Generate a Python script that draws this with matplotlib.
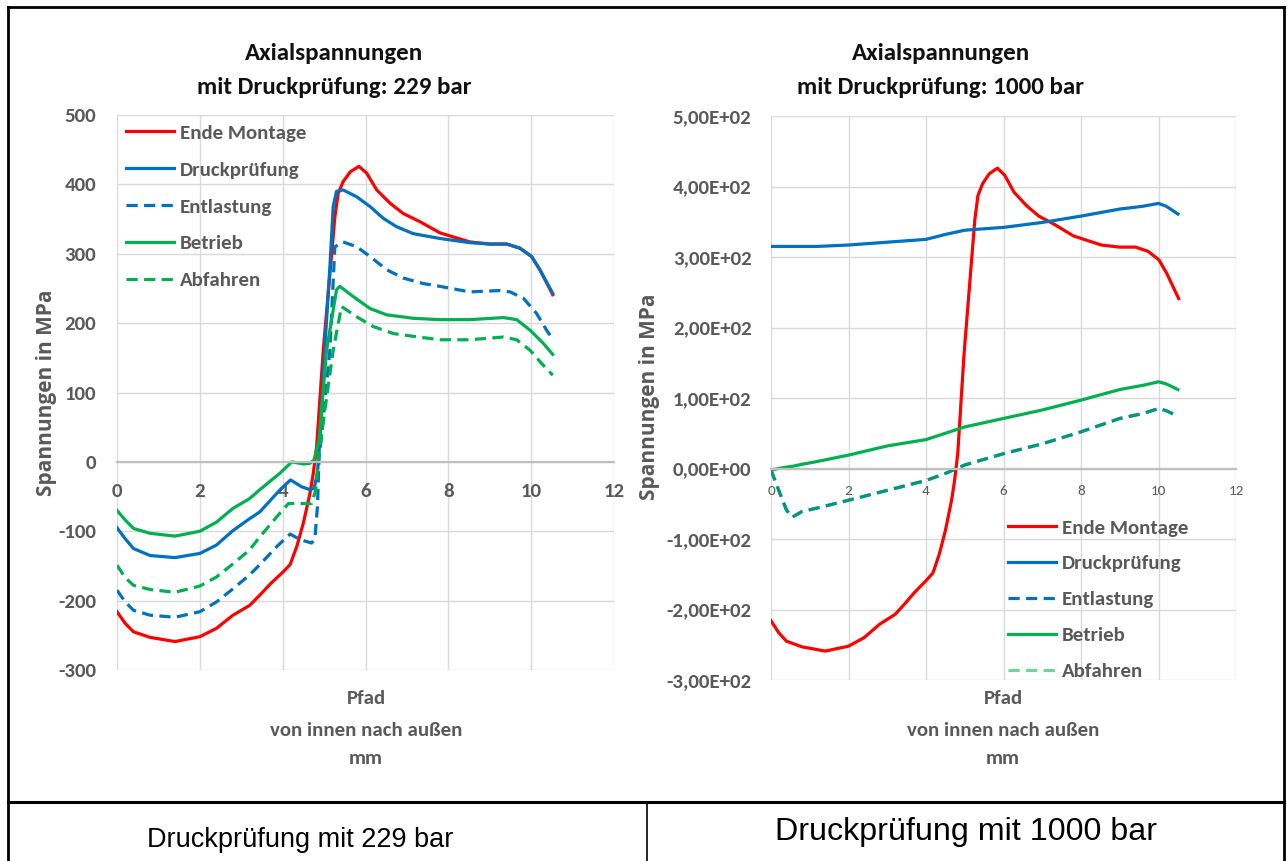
import matplotlib
matplotlib.use("Agg")
import matplotlib.pyplot as plt
from matplotlib import font_manager
from matplotlib.lines import Line2D
from matplotlib.ticker import FuncFormatter, MultipleLocator

plt.rcParams["axes.unicode_minus"] = False

# ---- data ----
labels = ["Ende Montage", "Druckprüfung", "Entlastung", "Betrieb", "Abfahren"]

# Ende Montage is the same in both charts
x_ende = [0, 0.2, 0.4, 0.8, 1.4, 2.0, 2.4, 2.8, 3.2, 3.45, 3.7, 4.02, 4.18, 4.34, 4.5,
          4.66, 4.74, 4.82, 4.98, 5.26, 5.34, 5.46, 5.63, 5.84, 6.03, 6.27, 6.59,
          6.91, 7.32, 7.8, 8.52, 9.0, 9.41, 9.73, 10.01, 10.21, 10.52]
ende_montage = [-216, -233, -245, -253, -259, -252, -240, -221, -207, -192, -176,
                -158, -148, -122, -88, -45, -16, 22, 161, 353, 387, 404, 418, 426,
                416, 392, 373, 358, 346, 330, 317, 314, 314, 308, 296, 277, 241]

# 229 bar
x_druck_229 = [0, 0.2, 0.4, 0.8, 1.4, 2.0, 2.4, 2.8, 3.2, 3.45, 3.94, 4.19, 4.46,
               4.66, 4.76, 4.84, 4.90, 5.02, 5.14, 5.22, 5.30, 5.46, 5.79, 6.11,
               6.43, 6.75, 7.15, 7.8, 8.52, 9.0, 9.41, 9.73, 10.01, 10.21, 10.52]
druck_229 = [-95, -111, -125, -135, -138, -132, -120, -99, -82, -72, -40, -26, -36,
             -40, -38, -16, 32, 166, 281, 368, 390, 392, 382, 368, 351, 339, 329,
             322, 316, 314, 314, 308, 296, 277, 243]

x_entl_229 = [0, 0.2, 0.4, 0.8, 1.4, 2.0, 2.4, 2.8, 3.2, 3.45, 3.86, 4.18, 4.42,
              4.70, 4.78, 4.84, 4.88, 4.93, 5.14, 5.26, 5.46, 5.79, 6.11, 6.51, 6.91,
              7.40, 7.80, 8.52, 9.25, 9.49, 9.81, 10.13, 10.37, 10.52]
entlastung_229 = [-185, -202, -214, -221, -224, -216, -202, -183, -163, -148, -122,
                  -104, -112, -117, -110, -64, 8, 32, 161, 310, 317, 310, 296, 277,
                  265, 257, 253, 245, 247, 245, 236, 214, 190, 177]

x_betr_229 = [0, 0.2, 0.4, 0.8, 1.4, 2.0, 2.4, 2.8, 3.2, 3.45, 3.94, 4.22, 4.5, 4.66,
              4.76, 4.84, 4.88, 5.06, 5.30, 5.38, 5.71, 6.11, 6.51, 7.15, 7.80, 8.52,
              9.33, 9.65, 9.97, 10.29, 10.52]
betrieb_229 = [-70, -84, -96, -103, -107, -100, -87, -67, -53, -40, -16, 0, -3, -2, 3,
               22, 32, 161, 248, 253, 238, 221, 212, 207, 205, 205, 208, 205, 190,
               171, 155]

x_abf_229 = [0, 0.2, 0.4, 0.8, 1.4, 2.0, 2.4, 2.8, 3.2, 3.45, 3.86, 4.14, 4.42, 4.70,
             4.80, 4.86, 4.92, 5.22, 5.42, 5.79, 6.19, 6.67, 7.15, 7.80, 8.52, 9.33,
             9.65, 9.97, 10.25, 10.52]
abfahren_229 = [-149, -167, -178, -184, -188, -179, -166, -147, -127, -108, -79, -60,
                -60, -60, -40, 3, 32, 161, 224, 209, 195, 185, 181, 176, 176, 180, 176,
                161, 142, 125]

# 1000 bar
x_r = [0, 0.2, 0.4, 0.55, 0.8, 1.2, 2, 3, 4, 4.5, 5, 6, 7, 8, 9, 9.6, 10, 10.2, 10.5]
druck_1000 = [315, 315, 315, 315, 315, 315, 317, 321, 325, 332, 338, 342, 349, 358,
              368, 372, 376, 372, 361]
entlastung_1000 = [-2, -31, -59, -69, -61, -56, -45, -31, -17, -7, 5, 21, 35, 52,
                   71, 78, 85, 82, 74]
betrieb_1000 = [-2, 0, 2, 3, 6, 10, 19, 32, 41, 50, 59, 71, 83, 97, 112, 118, 123,
                120, 112]
abfahren_1000 = [-2, -31, -59, -69, -61, -56, -45, -31, -17, -7, 5, 21, 35, 52,
                 71, 78, 85, 82, 74]

titles = ["Axialspannungen\nmit Druckprüfung: 229 bar",
          "Axialspannungen\nmit Druckprüfung: 1000 bar"]
captions = ["Druckprüfung mit 229 bar", "Druckprüfung mit 1000 bar"]

# ---- fonts ----
names = {f.name for f in font_manager.fontManager.ttflist}
def pick(*cands):
    for c in cands:
        if c in names:
            return c
    return "DejaVu Sans"

main_font = pick("Carlito", "Liberation Sans Narrow", "Roboto Condensed", "Open Sans")
side_font = pick("Open Sans", "Noto Sans", "DejaVu Sans")
cap_font = pick("Liberation Sans", "Arimo", "DejaVu Sans")

GREY = "#595959"
RED, BLUE, GREEN = "#ff0000", "#0070c0", "#00b050"
LW = 2.3
DASH = (0, (3.5, 2))

W, H = 1287, 861
def fx(px):
    return px / W
def fy(py):
    return 1 - py / H

fig = plt.figure(figsize=(W / 100, H / 100), dpi=100)

ax1 = fig.add_axes([fx(117), fy(670), fx(614) - fx(117), fy(115) - fy(670)])
ax2 = fig.add_axes([fx(771), fy(680), fx(1236) - fx(771), fy(116) - fy(680)])

def style(ax, ymin, ymax, xpad, ypad, xbold, xsize):
    ax.set_xlim(0, 12)
    ax.set_ylim(ymin, ymax)
    ax.xaxis.set_major_locator(MultipleLocator(2))
    ax.yaxis.set_major_locator(MultipleLocator(100))
    ax.grid(True, color="#d9d9d9", lw=1.0)
    ax.set_axisbelow(True)
    for s in ["top", "right", "left"]:
        ax.spines[s].set_visible(False)
    ax.spines["bottom"].set_position(("data", 0))
    ax.spines["bottom"].set_color("#bfbfbf")
    ax.spines["bottom"].set_linewidth(1.6)
    ax.tick_params(length=0, colors=GREY)
    ax.tick_params(axis="x", pad=xpad)
    ax.tick_params(axis="y", pad=ypad)
    for t in ax.get_yticklabels():
        t.set_fontfamily(main_font)
        t.set_fontweight("bold")
        t.set_fontsize(15)
    for t in ax.get_xticklabels():
        t.set_fontfamily(main_font)
        t.set_fontweight("bold" if xbold else "normal")
        t.set_fontsize(xsize)

# left chart
ax1.plot(x_ende, ende_montage, color=RED, lw=LW, label=labels[0])
ax1.plot(x_druck_229, druck_229, color=BLUE, lw=LW, label=labels[1])
ax1.plot(x_entl_229, entlastung_229, color=BLUE, lw=LW, ls=DASH, label=labels[2])
ax1.plot(x_betr_229, betrieb_229, color=GREEN, lw=LW, label=labels[3])
ax1.plot(x_abf_229, abfahren_229, color=GREEN, lw=LW, ls=DASH, label=labels[4])
style(ax1, -300, 500, 15, 15, True, 15)

# right chart
ax2.plot(x_ende, ende_montage, color=RED, lw=LW)
ax2.plot(x_r, druck_1000, color=BLUE, lw=LW)
ax2.plot(x_r, entlastung_1000, color=BLUE, lw=LW, ls=DASH)
ax2.plot(x_r, betrieb_1000, color=GREEN, lw=LW)
ax2.plot(x_r, abfahren_1000, color=GREEN, lw=LW, ls=DASH, alpha=0.6)
ax2.yaxis.set_major_formatter(FuncFormatter(lambda v, p: f"{v:.2E}".replace(".", ",")))
style(ax2, -300, 500, 12, 14, False, 11)

leg_kw = dict(loc="upper left", bbox_transform=fig.transFigure, frameon=False,
              borderpad=0, borderaxespad=0, handlelength=2.3, handletextpad=0.3,
              labelcolor=GREY, prop=dict(family=main_font, weight="bold", size=15))
ax1.legend(bbox_to_anchor=(fx(126), fy(124)), labelspacing=0.93, **leg_kw)

handles = [Line2D([], [], color=RED, lw=LW), Line2D([], [], color=BLUE, lw=LW),
           Line2D([], [], color=BLUE, lw=LW, ls=DASH), Line2D([], [], color=GREEN, lw=LW),
           Line2D([], [], color="#6fd59a", lw=LW, ls=DASH)]
ax2.legend(handles, labels, bbox_to_anchor=(fx(1008), fy(519)), labelspacing=0.88,
           **leg_kw)

# titles and axis labels
for cx, title in zip([334, 941], titles):
    l1, l2 = title.split("\n")
    fig.text(fx(cx), fy(53), l1, ha="center", va="center", family=main_font,
             weight="bold", size=18, color="#111111")
    fig.text(fx(cx), fy(88), l2, ha="center", va="center", family=main_font,
             weight="bold", size=18, color="#111111")

for cx, cy in [(47, 393), (649, 397)]:
    fig.text(fx(cx), fy(cy), "Spannungen in MPa", rotation=90, ha="center",
             va="center", family=side_font, weight="bold", size=15, color=GREY)

for cx in [366, 1003]:
    for py, s in [(698, "Pfad"), (730, "von innen nach außen"), (759, "mm")]:
        fig.text(fx(cx), fy(py), s, ha="center", va="center", family=main_font,
                 weight="bold", size=15, color=GREY)

# frame and caption row
def seg(x0, y0, x1, y1, lw):
    fig.add_artist(Line2D([fx(x0), fx(x1)], [fy(y0), fy(y1)], color="black", lw=lw,
                          transform=fig.transFigure))

seg(8, 7, 1284, 7, 2.0)
seg(8, 7, 8, 861, 2.0)
seg(1284, 7, 1284, 861, 2.0)
seg(8, 802, 1284, 802, 2.2)
seg(647, 802, 647, 861, 1.2)

fig.text(fx(300), fy(840), captions[0], ha="center", va="center", family=cap_font,
         size=19.5, color="black")
fig.text(fx(966), fy(832), captions[1], ha="center", va="center", family=cap_font,
         size=23.2, color="black")

fig.savefig("out.png", dpi=100)
